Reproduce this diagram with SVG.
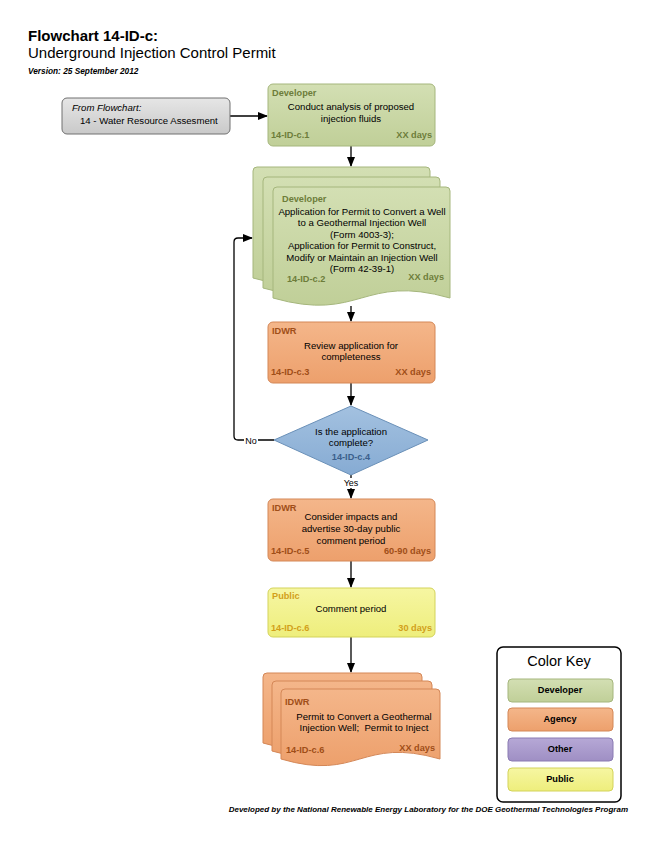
<svg xmlns="http://www.w3.org/2000/svg" width="650" height="841" viewBox="0 0 650 841">
<defs>
<linearGradient id="gDev" x1="0" y1="0" x2="0" y2="1"><stop offset="0" stop-color="#d3dfb3"/><stop offset="1" stop-color="#c0cf98"/></linearGradient>
<linearGradient id="gAg" x1="0" y1="0" x2="0" y2="1"><stop offset="0" stop-color="#f4b68a"/><stop offset="1" stop-color="#eda06c"/></linearGradient>
<linearGradient id="gPub" x1="0" y1="0" x2="0" y2="1"><stop offset="0" stop-color="#f6f6a2"/><stop offset="1" stop-color="#eeee7c"/></linearGradient>
<linearGradient id="gDia" x1="0" y1="0" x2="0" y2="1"><stop offset="0" stop-color="#a3c1e0"/><stop offset="1" stop-color="#86abd3"/></linearGradient>
<linearGradient id="gOth" x1="0" y1="0" x2="0" y2="1"><stop offset="0" stop-color="#b6a8d6"/><stop offset="1" stop-color="#9f8fc4"/></linearGradient>
<linearGradient id="gGray" x1="0" y1="0" x2="0" y2="1"><stop offset="0" stop-color="#e6e6e6"/><stop offset="1" stop-color="#c9c9c9"/></linearGradient>
<marker id="arr" markerWidth="10" markerHeight="8" refX="9" refY="4" orient="auto" markerUnits="userSpaceOnUse"><path d="M0,0 L10,4 L0,8 Z" fill="#000"/></marker>
</defs>
<style>
text{font-family:"Liberation Sans",Arial,sans-serif;}
.t{font-size:9.6px;fill:#000;text-anchor:middle;}
.lbl{font-size:9.2px;font-weight:bold;}
.dev{fill:url(#gDev);stroke:#a5b67c;stroke-width:1;}
.ag{fill:url(#gAg);stroke:#d48757;stroke-width:1;}
.pub{fill:url(#gPub);stroke:#d3d35a;stroke-width:1;}
.dia{fill:url(#gDia);stroke:#6a90b8;stroke-width:1;}
.devT{fill:#6d7d3a;}
.agT{fill:#a04e18;}
.pubT{fill:#d2a01a;}
.diaT{fill:#3b5f8c;}
.end{text-anchor:end;}
.conn{stroke:#000;stroke-width:1.3;fill:none;}
.key{font-size:9.2px;font-weight:bold;text-anchor:middle;fill:#000;}
</style>

<g id="title">
<text x="28" y="41" style="font-size:15px;font-weight:bold">Flowchart 14-ID-c:</text>
<text x="28" y="58" style="font-size:15px">Underground Injection Control Permit</text>
<text x="28" y="74" style="font-size:8.3px;font-style:italic;font-weight:bold">Version: 25 September 2012</text>
</g>

<g id="connectors">
<path class="conn" d="M230,116 H267" marker-end="url(#arr)"/>
<path class="conn" d="M351,146 V166" marker-end="url(#arr)"/>
<path class="conn" d="M351,306 V321" marker-end="url(#arr)"/>
<path class="conn" d="M351,383 V405" marker-end="url(#arr)"/>
<path class="conn" d="M274,440 H238 Q234,440 234,436 V242 Q234,238 238,238 H252" marker-end="url(#arr)"/>
<path class="conn" d="M351,475 V498" marker-end="url(#arr)"/>
<path class="conn" d="M351,561 V587" marker-end="url(#arr)"/>
<path class="conn" d="M351,637 V672" marker-end="url(#arr)"/>
<rect x="244" y="435" width="14" height="10" fill="#fff"/>
<text x="251" y="444" style="font-size:9px;text-anchor:middle">No</text>
<rect x="343" y="478" width="16" height="10" fill="#fff"/>
<text x="351" y="486" style="font-size:9px;text-anchor:middle">Yes</text>
</g>

<g id="from-flowchart">
<rect x="62" y="98" width="168" height="36" rx="5" fill="url(#gGray)" stroke="#707070" stroke-width="1"/>
<text x="72" y="111" style="font-size:9.6px;font-style:italic">From Flowchart:</text>
<text x="80" y="124" style="font-size:9.6px">14 - Water Resource Assesment</text>
</g>

<g id="n1">
<rect class="dev" x="268" y="84" width="167" height="62" rx="5"/>
<text x="272" y="96" class="lbl devT">Developer</text>
<text x="351" y="110" class="t">Conduct analysis of proposed</text>
<text x="351" y="122" class="t">injection fluids</text>
<text x="271" y="138" class="lbl devT">14-ID-c.1</text>
<text x="432" y="138" class="lbl devT end">XX days</text>
</g>

<g id="n2">
<path class="dev" d="M257,167 H426 Q430,167 430,171 V278 C342,253 341,303 253,278 V171 Q253,167 257,167 Z"/>
<path class="dev" d="M267,177 H436 Q440,177 440,181 V288 C352,263 351,313 263,288 V181 Q263,177 267,177 Z"/>
<path class="dev" d="M277,187 H446 Q450,187 450,191 V298 C362,273 361,323 273,298 V191 Q273,187 277,187 Z"/>
<text x="282" y="202" class="lbl devT">Developer</text>
<text x="362" y="215" class="t">Application for Permit to Convert a Well</text>
<text x="362" y="226" class="t">to a Geothermal Injection Well</text>
<text x="362" y="238" class="t">(Form 4003-3);</text>
<text x="362" y="249" class="t">Application for Permit to Construct,</text>
<text x="362" y="261" class="t">Modify or Maintain an Injection Well</text>
<text x="362" y="272" class="t">(Form 42-39-1)</text>
<text x="287" y="282" class="lbl devT">14-ID-c.2</text>
<text x="444" y="280" class="lbl devT end">XX days</text>
</g>

<g id="n3">
<rect class="ag" x="268" y="322" width="167" height="61" rx="5"/>
<text x="272" y="334" class="lbl agT">IDWR</text>
<text x="351" y="349" class="t">Review application for</text>
<text x="351" y="360" class="t">completeness</text>
<text x="271" y="375" class="lbl agT">14-ID-c.3</text>
<text x="431" y="375" class="lbl agT end">XX days</text>
</g>

<g id="n4">
<polygon class="dia" points="351,406 428,440 351,475 274,440"/>
<text x="351" y="435" class="t">Is the application</text>
<text x="351" y="446" class="t">complete?</text>
<text x="351" y="460" class="lbl diaT" style="text-anchor:middle">14-ID-c.4</text>
</g>

<g id="n5">
<rect class="ag" x="268" y="499" width="167" height="62" rx="5"/>
<text x="272" y="511" class="lbl agT">IDWR</text>
<text x="351" y="520" class="t">Consider impacts and</text>
<text x="351" y="532" class="t">advertise 30-day public</text>
<text x="351" y="544" class="t">comment period</text>
<text x="271" y="554" class="lbl agT">14-ID-c.5</text>
<text x="431" y="554" class="lbl agT end">60-90 days</text>
</g>

<g id="n6">
<rect class="pub" x="268" y="588" width="167" height="49" rx="5"/>
<text x="272" y="599" class="lbl pubT">Public</text>
<text x="351" y="612" class="t">Comment period</text>
<text x="271" y="631" class="lbl pubT">14-ID-c.6</text>
<text x="432" y="631" class="lbl pubT end">30 days</text>
</g>

<g id="n7">
<path class="ag" d="M267,673 H418 Q422,673 422,677 V743 C342,720 341,766 263,743 V677 Q263,673 267,673 Z"/>
<path class="ag" d="M276,681 H428 Q432,681 432,685 V751 C352,728 351,774 272,751 V685 Q272,681 276,681 Z"/>
<path class="ag" d="M285,689 H436 Q440,689 440,693 V759 C360,736 359,782 281,759 V693 Q281,689 285,689 Z"/>
<text x="285" y="705" class="lbl agT">IDWR</text>
<text x="364" y="720" class="t">Permit to Convert a Geothermal</text>
<text x="364" y="731" class="t" style="white-space:pre">Injection Well;  Permit to Inject</text>
<text x="286" y="753" class="lbl agT">14-ID-c.6</text>
<text x="435" y="751" class="lbl agT end">XX days</text>
</g>

<g id="color-key">
<rect x="497" y="647" width="124" height="155" rx="6" fill="#fff" stroke="#000" stroke-width="1.5"/>
<text x="559" y="666" style="font-size:14.5px;text-anchor:middle">Color Key</text>
<rect class="dev" x="508" y="679" width="105" height="23" rx="4"/>
<text x="560" y="693" class="key">Developer</text>
<rect class="ag" x="508" y="708" width="105" height="23" rx="4"/>
<text x="560" y="722" class="key">Agency</text>
<rect x="508" y="738" width="105" height="23" rx="4" fill="url(#gOth)" stroke="#8a7ab3" stroke-width="1"/>
<text x="560" y="752" class="key">Other</text>
<rect class="pub" x="508" y="768" width="105" height="23" rx="4"/>
<text x="560" y="782" class="key">Public</text>
</g>

<g id="footer">
<text x="628" y="812" style="font-size:8px;font-style:italic;font-weight:bold;text-anchor:end">Developed by the National Renewable Energy Laboratory for the DOE Geothermal Technologies Program</text>
</g>
</svg>
